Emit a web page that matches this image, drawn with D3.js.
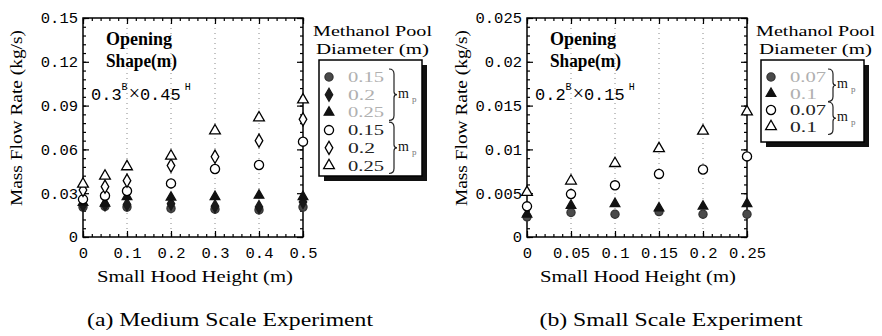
<!DOCTYPE html>
<html>
<head>
<meta charset="utf-8">
<script src="https://cdn.jsdelivr.net/npm/d3@7"></script>
<style>
  html, body { margin: 0; padding: 0; background: #fff; }
  svg { display: block; }
</style>
</head>
<body>
<svg id="chart" width="882" height="336"></svg>
<script>
// ---- Medium scale experiment: opening 0.3B x 0.45H ----
const medHeights = [0, 0.05, 0.1, 0.2, 0.3, 0.4, 0.5];
const medBurn015 = [0.0205, 0.0210, 0.0205, 0.0196, 0.0190, 0.0185, 0.0205];
const medBurn020 = [0.0220, 0.0222, 0.0222, 0.0228, 0.0210, 0.0205, 0.0240];
const medBurn025 = [0.0235, 0.0230, 0.0276, 0.0272, 0.0276, 0.0285, 0.0276];
const medFlow015 = [0.0258, 0.0283, 0.0315, 0.0367, 0.0466, 0.0493, 0.0653];
const medFlow020 = [0.0322, 0.0345, 0.0386, 0.0489, 0.0550, 0.0660, 0.0806];
const medFlow025 = [0.0363, 0.0418, 0.0482, 0.0555, 0.0728, 0.0817, 0.0940];
const medXTicks = ["0", "0.1", "0.2", "0.3", "0.4", "0.5"];
const medYTicks = ["0", "0.03", "0.06", "0.09", "0.12", "0.15"];
const medLegend = ["0.15", "0.2", "0.25", "0.15", "0.2", "0.25"];

// ---- Small scale experiment: opening 0.2B x 0.15H ----
const smlHeights = [0, 0.05, 0.1, 0.15, 0.2, 0.25];
const smlBurn007 = [0.0023, 0.0028, 0.0026, 0.0029, 0.0026, 0.0026];
const smlBurn010 = [0.0026, 0.0036, 0.0038, 0.0033, 0.0035, 0.0038];
const smlFlow007 = [0.0035, 0.0049, 0.0059, 0.0072, 0.0077, 0.0092];
const smlFlow010 = [0.0051, 0.0064, 0.0084, 0.0101, 0.0121, 0.0143];
const smlXTicks = ["0", "0.05", "0.1", "0.15", "0.2", "0.25"];
const smlYTicks = ["0", "0.005", "0.01", "0.015", "0.02", "0.025"];
const smlLegend = ["0.07", "0.1", "0.07", "0.1"];

const svg = d3.select("#chart");
const MONO = "Liberation Mono, monospace";
const SERIF = "Liberation Serif, serif";

// marker styles
const styles = {
  fcircle:  { type: d3.symbolCircle,   size: 52, fill: "#4a4a4a", stroke: "#333" },
  fdiamond: { type: d3.symbolDiamond,  size: 48, fill: "#1a1a1a", stroke: "#1a1a1a" },
  ftri:     { type: d3.symbolTriangle, size: 40, fill: "#111",    stroke: "#111" },
  ocircle:  { type: d3.symbolCircle,   size: 66, fill: "#fff",    stroke: "#000" },
  odiamond: { type: d3.symbolDiamond,  size: 50, fill: "#fff",    stroke: "#000" },
  otri:     { type: d3.symbolTriangle, size: 50, fill: "#fff",    stroke: "#000" }
};

function marker(g, x, y, key) {
  const s = styles[key];
  g.append("path")
    .attr("d", d3.symbol().type(s.type).size(s.size)())
    .attr("transform", `translate(${x},${y})`)
    .attr("fill", s.fill)
    .attr("stroke", s.stroke)
    .attr("stroke-width", 1.3);
}

function panel(cfg) {
  const g = svg.append("g");
  const x = d3.scaleLinear().domain(cfg.xDomain).range([cfg.x0, cfg.x1]);
  const y = d3.scaleLinear().domain(cfg.yDomain).range([237, 18]);
  const xMaj = cfg.xTicks.map(Number);
  const yMaj = cfg.yTicks.map(Number);
  const xMin = d3.range(cfg.xDomain[0], cfg.xDomain[1] + 1e-9, cfg.xMinor);
  const yMin = d3.range(cfg.yDomain[0], cfg.yDomain[1] + 1e-9, cfg.yMinor);

  // dotted verticals at major x ticks
  g.selectAll(".vgrid").data(xMaj.slice(1, -1)).join("line")
    .attr("x1", d => x(d)).attr("x2", d => x(d))
    .attr("y1", 18).attr("y2", 237)
    .attr("stroke", "#888").attr("stroke-width", 1)
    .attr("stroke-dasharray", "1,4");

  const styleAxis = (a) => {
    a.attr("font-family", MONO);
    a.select(".domain").remove();
    a.selectAll("line").attr("stroke", "#000").attr("stroke-width", 1.2);
    a.selectAll("text").attr("font-family", MONO).attr("font-size", 15.5).attr("fill", "#000");
  };

  // bottom
  g.append("g").attr("transform", "translate(0,237)")
    .call(d3.axisBottom(x).tickValues(xMaj).tickSize(-6).tickPadding(10)
      .tickFormat((d, i) => cfg.xTicks[i])).call(styleAxis);
  g.append("g").attr("transform", "translate(0,237)")
    .call(d3.axisBottom(x).tickValues(xMin).tickSize(-3).tickFormat("")).call(styleAxis);
  // top
  g.append("g").attr("transform", "translate(0,18)")
    .call(d3.axisTop(x).tickValues(xMaj).tickSize(-6).tickFormat("")).call(styleAxis);
  g.append("g").attr("transform", "translate(0,18)")
    .call(d3.axisTop(x).tickValues(xMin).tickSize(-3).tickFormat("")).call(styleAxis);
  // left
  g.append("g").attr("transform", `translate(${cfg.x0},0)`)
    .call(d3.axisLeft(y).tickValues(yMaj).tickSize(-6).tickPadding(5)
      .tickFormat((d, i) => cfg.yTicks[i])).call(styleAxis);
  g.append("g").attr("transform", `translate(${cfg.x0},0)`)
    .call(d3.axisLeft(y).tickValues(yMin).tickSize(-3).tickFormat("")).call(styleAxis);
  // right
  g.append("g").attr("transform", `translate(${cfg.x1},0)`)
    .call(d3.axisRight(y).tickValues(yMaj).tickSize(-6).tickFormat("")).call(styleAxis);
  g.append("g").attr("transform", `translate(${cfg.x1},0)`)
    .call(d3.axisRight(y).tickValues(yMin).tickSize(-3).tickFormat("")).call(styleAxis);

  // frame
  g.append("rect").attr("x", cfg.x0).attr("y", 18)
    .attr("width", cfg.x1 - cfg.x0).attr("height", 219)
    .attr("fill", "none").attr("stroke", "#000").attr("stroke-width", 1.5);

  // data
  cfg.series.forEach(s => {
    s.values.forEach((v, i) => marker(g, x(cfg.xs[i]), y(v), s.key));
  });

  // axis titles
  g.append("text")
    .attr("transform", `translate(${cfg.yTitleX},118) rotate(-90)`)
    .attr("text-anchor", "middle").attr("dominant-baseline", "central")
    .attr("font-family", SERIF).attr("font-size", 17)
    .attr("textLength", 176).attr("lengthAdjust", "spacingAndGlyphs")
    .text("Mass Flow Rate (kg/s)");
  g.append("text")
    .attr("x", (cfg.x0 + cfg.x1) / 2 + cfg.xTitleShift).attr("y", 282)
    .attr("text-anchor", "middle")
    .attr("font-family", SERIF).attr("font-size", 17)
    .attr("textLength", 196).attr("lengthAdjust", "spacingAndGlyphs")
    .text("Small Hood Height (m)");

  // opening annotation
  const ax = cfg.x0 + 23;
  g.append("text").attr("x", ax).attr("y", 45)
    .attr("font-family", SERIF).attr("font-weight", "bold").attr("font-size", 18)
    .attr("textLength", 66).attr("lengthAdjust", "spacingAndGlyphs").text("Opening");
  g.append("text").attr("x", ax).attr("y", 67)
    .attr("font-family", SERIF).attr("font-weight", "bold").attr("font-size", 18)
    .attr("textLength", 71).attr("lengthAdjust", "spacingAndGlyphs").text("Shape(m)");
  const op = g.append("text").attr("x", cfg.x0 + 8).attr("y", 100)
    .attr("font-family", MONO).attr("font-size", 17).attr("fill", "#000");
  op.append("tspan").text(cfg.opening[0]);
  op.append("tspan").attr("dy", -10).attr("font-size", 10).text("B");
  op.append("tspan").attr("dx", 1).attr("dy", 10).attr("font-family", SERIF).attr("font-size", 20).text("\u00d7");
  op.append("tspan").text(cfg.opening[1]);
  op.append("tspan").attr("dx", 4).attr("dy", -10).attr("font-size", 10).text("H");

  // legend
  const L = cfg.legend;
  g.append("text").attr("x", L.titleX).attr("y", 36)
    .attr("font-family", SERIF).attr("font-size", 15)
    .attr("textLength", 119).attr("lengthAdjust", "spacingAndGlyphs").text("Methanol Pool");
  g.append("text").attr("x", L.titleX + 3).attr("y", 54)
    .attr("font-family", SERIF).attr("font-size", 15)
    .attr("textLength", 113).attr("lengthAdjust", "spacingAndGlyphs").text("Diameter (m)");
  // shadow then box
  g.append("rect").attr("x", L.x + 5).attr("y", L.y + 5).attr("width", L.w).attr("height", L.h)
    .attr("fill", "#111");
  g.append("rect").attr("x", L.x).attr("y", L.y).attr("width", L.w).attr("height", L.h)
    .attr("fill", "#fff").attr("stroke", "#000").attr("stroke-width", 1.5);
  L.items.forEach((it, i) => {
    const yy = L.y + 17 + i * L.step;
    marker(g, L.x + 10, yy, it.key);
    g.append("text").attr("x", L.x + 29).attr("y", yy + 5)
      .attr("font-family", SERIF).attr("font-size", L.font)
      .attr("fill", it.key[0] === "f" ? "#b0b0b0" : "#222")
      .attr("textLength", it.label.length * 9).attr("lengthAdjust", "spacingAndGlyphs")
      .text(it.label);
  });
  L.groups.forEach(gr => {
    const yTop = L.y + 17 + gr[0] * L.step - 8;
    const yBot = L.y + 17 + gr[1] * L.step + 8;
    const bx = L.x + L.braceDx;
    const mid = (yTop + yBot) / 2;
    g.append("path")
      .attr("d", `M${bx},${yTop} q5,0 5,5 L${bx + 5},${mid - 3} q0,3 3,3 q-3,0 -3,3 L${bx + 5},${yBot - 5} q0,5 -5,5`)
      .attr("fill", "none").attr("stroke", "#222").attr("stroke-width", 1.2);
    const t = g.append("text").attr("x", bx + 9).attr("y", mid + 3)
      .attr("font-family", SERIF).attr("font-size", 14).attr("fill", "#111");
    t.append("tspan").text("m");
    t.append("tspan").attr("dx", 3).attr("dy", 4).attr("font-size", 9).attr("fill", "#777").text("p");
  });

  // caption
  g.append("text").attr("x", cfg.capX).attr("y", 326)
    .attr("text-anchor", "middle").attr("font-family", SERIF).attr("font-size", 18)
    .attr("textLength", cfg.capLen).attr("lengthAdjust", "spacingAndGlyphs")
    .text(cfg.caption);
}

panel({
  x0: 83, x1: 303, xDomain: [0, 0.5], yDomain: [0, 0.15],
  xTicks: medXTicks, yTicks: medYTicks, xMinor: 0.02, yMinor: 0.006,
  xs: medHeights, yTitleX: 16, xTitleShift: 2,
  series: [
    { key: "fcircle", values: medBurn015 },
    { key: "fdiamond", values: medBurn020 },
    { key: "ftri", values: medBurn025 },
    { key: "ocircle", values: medFlow015 },
    { key: "odiamond", values: medFlow020 },
    { key: "otri", values: medFlow025 }
  ],
  opening: ["0.3", "0.45"],
  legend: {
    titleX: 313, x: 319, y: 60, w: 103, h: 116, step: 17.7, braceDx: 70, font: 15,
    items: [
      { key: "fcircle", label: medLegend[0] },
      { key: "fdiamond", label: medLegend[1] },
      { key: "ftri", label: medLegend[2] },
      { key: "ocircle", label: medLegend[3] },
      { key: "odiamond", label: medLegend[4] },
      { key: "otri", label: medLegend[5] }
    ],
    groups: [[0, 2], [3, 5]]
  },
  caption: "(a) Medium Scale Experiment", capX: 230, capLen: 286
});

panel({
  x0: 527, x1: 747, xDomain: [0, 0.25], yDomain: [0, 0.025],
  xTicks: smlXTicks, yTicks: smlYTicks, xMinor: 0.01, yMinor: 0.001,
  xs: smlHeights, yTitleX: 461, xTitleShift: 1,
  series: [
    { key: "fcircle", values: smlBurn007 },
    { key: "ftri", values: smlBurn010 },
    { key: "ocircle", values: smlFlow007 },
    { key: "otri", values: smlFlow010 }
  ],
  opening: ["0.2", "0.15"],
  legend: {
    titleX: 756, x: 761, y: 60, w: 103, h: 82, step: 16.5, braceDx: 67, font: 14,
    items: [
      { key: "fcircle", label: smlLegend[0] },
      { key: "ftri", label: smlLegend[1] },
      { key: "ocircle", label: smlLegend[2] },
      { key: "otri", label: smlLegend[3] }
    ],
    groups: [[0, 1], [2, 3]]
  },
  caption: "(b) Small Scale Experiment", capX: 671, capLen: 263
});
</script>
</body>
</html>
